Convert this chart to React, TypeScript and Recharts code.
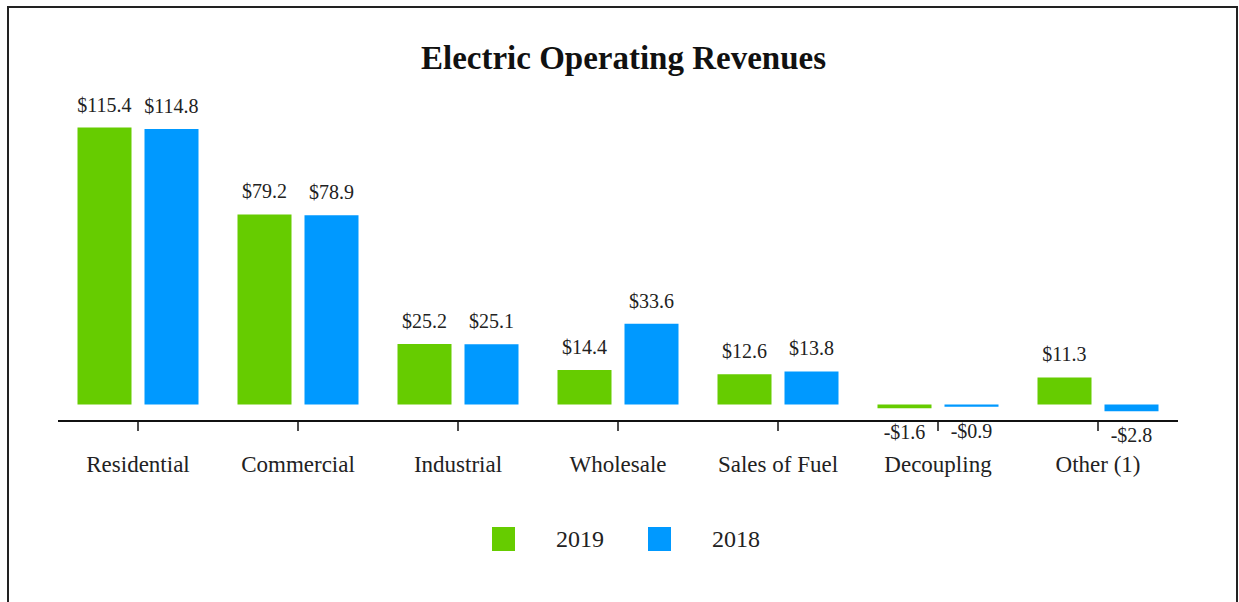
import { BarChart, Bar, XAxis, YAxis, Legend, LabelList } from 'recharts'

const categories = ['Residential', 'Commercial', 'Industrial', 'Wholesale', 'Sales of Fuel', 'Decoupling', 'Other (1)']
const revenue2019 = [115.4, 79.2, 25.2, 14.4, 12.6, -1.6, 11.3]
const revenue2018 = [114.8, 78.9, 25.1, 33.6, 13.8, -0.9, -2.8]
const seriesNames = ['2019', '2018']
const seriesColors = ['#66cc00', '#0099ff']

const data = categories.map((name, i) => ({ name, y2019: revenue2019[i], y2018: revenue2018[i] }))

const FONT = '"Liberation Serif", "Times New Roman", serif'

const money = (v: number) => (v < 0 ? `-$${Math.abs(v).toFixed(1)}` : `$${v.toFixed(1)}`)

function ValueLabel(props: any) {
  const { x, y, width, height, value } = props
  const top = Math.min(y, y + height)
  const bottom = Math.max(y, y + height)
  const neg = value < 0
  return (
    <text
      x={x + width / 2}
      y={neg ? bottom + 31 : top - 16}
      textAnchor="middle"
      fill="#222"
      fontSize={20}
      fontFamily={FONT}
    >
      {money(value)}
    </text>
  )
}

function LegendContent() {
  return (
    <div style={{ display: 'flex', justifyContent: 'center', alignItems: 'center', paddingLeft: 13, fontFamily: FONT, fontSize: 24, lineHeight: '24px', color: '#222' }}>
      {seriesNames.map((n, i) => (
        <div key={n} style={{ display: 'flex', alignItems: 'center', marginLeft: i === 0 ? 0 : 44 }}>
          <span style={{ display: 'inline-block', width: 23, height: 24, background: seriesColors[i], marginRight: 41 }} />
          <span>{n}</span>
        </div>
      ))}
    </div>
  )
}

export default function App() {
  return (
    <div style={{ position: 'absolute', left: 0, top: 0, width: 1239, height: 602, background: '#fff', overflow: 'hidden' }}>
      <div
        style={{
          position: 'absolute',
          left: 7,
          top: 6,
          width: 1227,
          height: 600,
          borderLeft: '2px solid #222',
          borderTop: '2px solid #222',
          borderRight: '2px solid #222',
          borderBottom: '1px solid #ddd',
        }}
      />
      <div
        style={{
          position: 'absolute',
          left: 0,
          top: 38,
          width: 1247,
          textAlign: 'center',
          fontFamily: FONT,
          fontWeight: 'bold',
          fontSize: 33,
          color: '#111',
          lineHeight: '40px',
        }}
      >
        Electric Operating Revenues
      </div>
      <div style={{ position: 'absolute', left: 0, top: 0 }}>
        <BarChart
          width={1239}
          height={602}
          data={data}
          margin={{ top: 116.5, right: 61, bottom: 151, left: 58 }}
          barCategoryGap={19.5}
          barGap={13}
        >
          <YAxis hide domain={[-6.875, 120]} allowDataOverflow />
          <XAxis
            dataKey="name"
            height={30}
            axisLine={{ stroke: '#111', strokeWidth: 2 }}
            tickLine={{ stroke: '#111', strokeWidth: 1.5 }}
            tickSize={10}
            tickMargin={25}
            interval={0}
            tick={{ fill: '#222', fontSize: 23, fontFamily: FONT }}
          />
          <Legend
            layout="horizontal"
            verticalAlign="middle"
            align="center"
            content={<LegendContent />}
            wrapperStyle={{ top: 527, left: 0, width: 1239 }}
          />
          <Bar dataKey="y2019" name={seriesNames[0]} fill={seriesColors[0]} isAnimationActive={false}>
            <LabelList dataKey="y2019" content={<ValueLabel />} />
          </Bar>
          <Bar dataKey="y2018" name={seriesNames[1]} fill={seriesColors[1]} isAnimationActive={false}>
            <LabelList dataKey="y2018" content={<ValueLabel />} />
          </Bar>
        </BarChart>
      </div>
    </div>
  )
}
